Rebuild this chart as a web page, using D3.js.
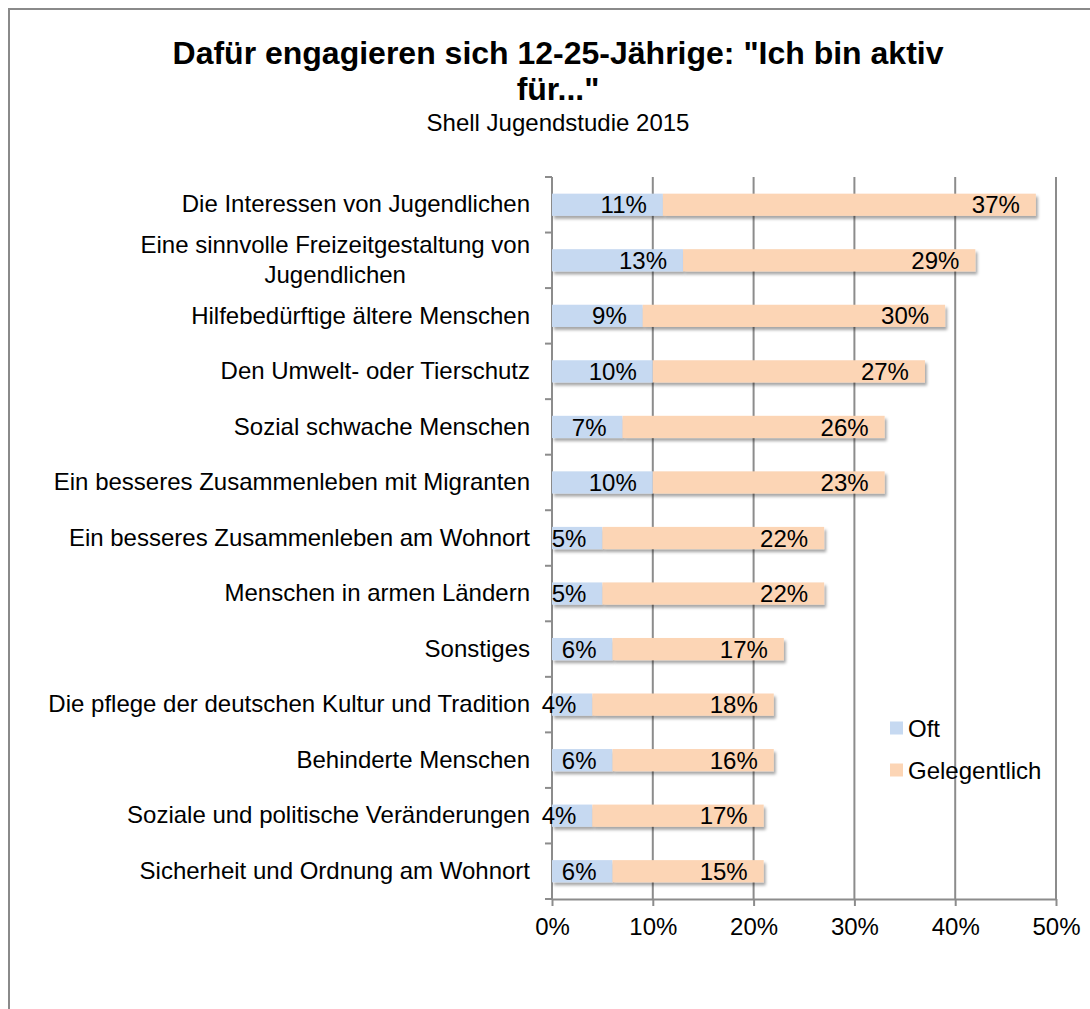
<html>
    <script src="https://d3js.org/d3.v7.min.js"></script>
    <style>
    body {
        margin: 0;
        background: #fff;
        font-family: 'Liberation Sans', Arial, sans-serif;
    }
    </style>
    <body>
        <svg id="chart" width="1090" height="1009"></svg>

    <script>

        // chart data
        const categories = [
            "Die Interessen von Jugendlichen",
            "Eine sinnvolle Freizeitgestaltung von Jugendlichen",
            "Hilfebedürftige ältere Menschen",
            "Den Umwelt- oder Tierschutz",
            "Sozial schwache Menschen",
            "Ein besseres Zusammenleben mit Migranten",
            "Ein besseres Zusammenleben am Wohnort",
            "Menschen in armen Ländern",
            "Sonstiges",
            "Die pflege der deutschen Kultur und Tradition",
            "Behinderte Menschen",
            "Soziale und politische Veränderungen",
            "Sicherheit und Ordnung am Wohnort"
        ];
        const oft =          [11, 13, 9, 10, 7, 10, 5, 5, 6, 4, 6, 4, 6];
        const gelegentlich = [37, 29, 30, 27, 26, 23, 22, 22, 17, 18, 16, 17, 15];
        const seriesNames = ["Oft", "Gelegentlich"];
        const seriesColors = ["#c6d9f1", "#fcd5b5"];
        const xTicks = [0, 10, 20, 30, 40, 50];

        const titleLines = ['Dafür engagieren sich 12-25-Jährige: "Ich bin aktiv', 'für..."'];
        const subtitle = "Shell Jugendstudie 2015";

        let svg = d3.select("svg#chart");

        let plot = {left: 552, right: 1056, top: 177, bottom: 899};
        let fontSize = 24;
        let axisColor = "#8c8c8c";

        // frame (only top and left edges are visible in the crop)
        svg.append("path")
            .attr("d", "M9,1009V9H1090")
            .attr("fill", "none")
            .attr("stroke", "#8a8a8a")
            .attr("stroke-width", 2);

        // title, one text per line
        titleLines.forEach((t, i) => {
            svg.append("text")
                .attr("class", "title")
                .attr("x", 558)
                .attr("y", 64 + i * 36)
                .attr("text-anchor", "middle")
                .attr("font-weight", "bold")
                .attr("font-size", 32)
                .text(t);
        });

        svg.append("text")
            .attr("x", 558)
            .attr("y", 131)
            .attr("text-anchor", "middle")
            .attr("font-size", fontSize)
            .text(subtitle);

        let xScale = d3.scaleLinear()
            .domain([0, 50])
            .range([plot.left, plot.right]);

        let yScale = d3.scaleBand()
            .domain(categories)
            .range([plot.top, plot.bottom])
            .paddingInner(0.6)
            .paddingOuter(0.3);

        // shadow filter like the office chart
        let defs = svg.append("defs");
        let filter = defs.append("filter")
            .attr("id", "shadow")
            .attr("x", "-5%").attr("y", "-30%")
            .attr("width", "115%").attr("height", "180%");
        filter.append("feDropShadow")
            .attr("dx", 2)
            .attr("dy", 3)
            .attr("stdDeviation", 1.8)
            .attr("flood-color", "#000")
            .attr("flood-opacity", 0.35);

        // gridlines
        svg.append("g")
            .selectAll("line")
            .data(xTicks.slice(1))
            .join("line")
            .attr("x1", d => xScale(d))
            .attr("x2", d => xScale(d))
            .attr("y1", plot.top)
            .attr("y2", plot.bottom)
            .attr("stroke", axisColor)
            .attr("stroke-width", 2);

        // y axis line and tick marks at category boundaries (behind the bars and labels)
        let boundaries = d3.range(categories.length + 1)
            .map(i => plot.top + i * (plot.bottom - plot.top) / categories.length);
        svg.append("line")
            .attr("x1", plot.left).attr("x2", plot.left)
            .attr("y1", plot.top).attr("y2", plot.bottom)
            .attr("stroke", axisColor).attr("stroke-width", 2);
        svg.append("g").selectAll("line")
            .data(boundaries)
            .join("line")
            .attr("x1", plot.left - 7).attr("x2", plot.left)
            .attr("y1", d => d).attr("y2", d => d)
            .attr("stroke", axisColor).attr("stroke-width", 2);

        // x axis
        const xAxis = d3.axisBottom(xScale)
            .tickValues(xTicks)
            .tickFormat(d => d + "%")
            .tickSizeInner(7)
            .tickSizeOuter(0)
            .tickPadding(12);
        let xAxisG = svg.append("g")
            .attr("transform", "translate(0," + plot.bottom + ")")
            .call(xAxis);
        xAxisG.select(".domain")
            .attr("stroke", axisColor).attr("stroke-width", 2);
        xAxisG.selectAll(".tick line")
            .attr("stroke", axisColor).attr("stroke-width", 2);
        xAxisG.selectAll("text")
            .attr("font-size", fontSize)
            .attr("font-family", "'Liberation Sans', Arial, sans-serif")
            .attr("fill", "#000");

        // stacked data
        let rows = categories.map((c, i) => ({category: c, values: [oft[i], gelegentlich[i]]}));
        let segments = [];
        rows.forEach(r => {
            let x0 = 0;
            r.values.forEach((v, k) => {
                segments.push({category: r.category, series: k, start: x0, end: x0 + v, value: v});
                x0 += v;
            });
        });

        let barG = svg.append("g");

        barG.selectAll(".bar")
            .data(segments)
            .join("rect")
            .attr("class", "bar")
            .attr("x", d => xScale(d.start))
            .attr("y", d => yScale(d.category))
            .attr("width", d => xScale(d.end) - xScale(d.start))
            .attr("height", yScale.bandwidth())
            .attr("fill", d => seriesColors[d.series])
            .attr("filter", "url(#shadow)");

        barG.selectAll(".value")
            .data(segments)
            .join("text")
            .attr("class", "value")
            .attr("x", d => xScale(d.end) - 16)
            .attr("y", d => yScale(d.category) + yScale.bandwidth() / 2)
            .attr("dy", "0.36em")
            .attr("text-anchor", "end")
            .attr("font-size", fontSize)
            .text(d => d.value + "%");

        // y axis labels
        const yAxis = d3.axisLeft(yScale).tickSize(0).tickPadding(22);
        let yAxisG = svg.append("g")
            .attr("transform", "translate(" + plot.left + ",0)")
            .call(yAxis);
        yAxisG.select(".domain").remove();
        yAxisG.selectAll("text")
            .attr("font-size", fontSize)
            .attr("font-family", "'Liberation Sans', Arial, sans-serif")
            .attr("fill", "#000")
            .call(wrap, 500);

        // legend
        let legend = svg.append("g")
            .attr("transform", "translate(890,728)");
        seriesNames.forEach((name, i) => {
            let item = legend.append("g").attr("transform", "translate(0," + (i * 42) + ")");
            item.append("rect")
                .attr("x", 0).attr("y", -6.5)
                .attr("width", 13).attr("height", 13)
                .attr("fill", seriesColors[i]);
            item.append("text")
                .attr("x", 18)
                .attr("dy", "0.36em")
                .attr("font-size", fontSize)
                .text(name);
        });

        // wrap long category labels, lines centered on each other
        function wrap(texts, width) {
            texts.each(function () {
                let text = d3.select(this);
                let words = text.text().split(/\s+/);
                let x = +text.attr("x");
                text.text(null);
                let lines = [];
                let line = [];
                let tspan = text.append("tspan");
                words.forEach(w => {
                    line.push(w);
                    tspan.text(line.join(" "));
                    if (tspan.node().getComputedTextLength() > width && line.length > 1) {
                        line.pop();
                        lines.push(line.join(" "));
                        line = [w];
                    }
                });
                lines.push(line.join(" "));
                text.text(null);
                if (lines.length == 1) {
                    text.text(lines[0]);
                    return;
                }
                let lh = 30;
                let widths = lines.map(l => {
                    let t = text.append("tspan").text(l);
                    let wl = t.node().getComputedTextLength();
                    t.remove();
                    return wl;
                });
                let maxW = d3.max(widths);
                let cx = x - maxW / 2;
                lines.forEach((l, i) => {
                    text.append("tspan")
                        .attr("x", cx)
                        .attr("text-anchor", "middle")
                        .attr("dy", i == 0 ? (0.32 - (lines.length - 1) * lh / 2 / fontSize) + "em" : lh + "px")
                        .text(l);
                });
                text.attr("dy", null);
            });
        }

    </script>
    </body>
</html>
